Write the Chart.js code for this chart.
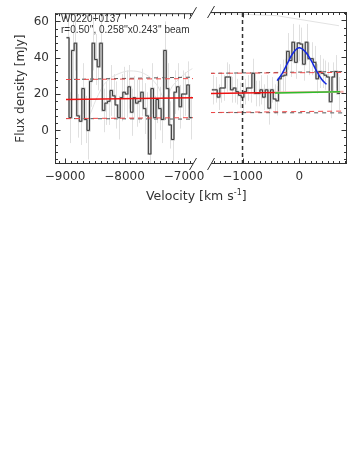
<!DOCTYPE html>
<html>
<head>
<meta charset="UTF-8">
<title>W0220+0137 spectrum</title>
<script src="https://cdn.jsdelivr.net/npm/chart.js"></script>
<style>
  body { margin: 0; background: #fff; font-family: "DejaVu Sans", sans-serif; }
  #wrap { position: relative; width: 357px; height: 462px; }
  canvas { position: absolute; top: 0; }
  #cLeft { left: 0; }
  #cRight { left: 200px; }
  .lbl { position: absolute; color: #333; white-space: nowrap; line-height: 1; }
  .note { font-family: "Liberation Sans", sans-serif; font-size: 10px; }
  .lbl sup { font-size: 8px; vertical-align: 5px; }
</style>
</head>
<body>
<div id="wrap">
  <canvas id="cLeft" width="215" height="210"></canvas>
  <canvas id="cRight" width="157" height="210"></canvas>
  <div class="lbl note" style="left:61px;top:14px">W0220+0137</div>
  <div class="lbl note" style="left:61px;top:25px">r=0.50'', 0.258''x0.243'' beam</div>
  <div class="lbl" style="left:146px;top:189px;font-size:12.5px">Velocity [km s<sup>-1</sup>]</div>
</div>

<script>
  // shared flux axis
  const yMin = -18.5, yMax = 64.5;
  const yTicks = [0, 20, 40, 60];
  const leftTicks = [-9000, -8000, -7000];
  const rightTicks = [-1000, 0];

  // left window: bins start / width (km/s) and flux (mJy)
  const leftStart = -8975, leftWidth = 43;
  const leftFlux = [51, 7, 44, 48, 8, 5, 23, 6, 0, 27, 48, 39, 35, 48, 11, 15, 16, 22, 19, 14,
    7, 18, 21, 20, 24, 10, 18, 15, 16, 21, 12, 8, -13, 23, 7, 17, 12, 6, 44, 23,
    3, -5, 21, 24, 13, 20, 20, 25, 7];
  const leftErr = [18, 14, 16, 15, 12, 13, 14, 13, 16, 14, 15, 14, 13, 15, 12, 12, 13, 14, 12, 13,
    12, 13, 14, 13, 12, 13, 12, 13, 12, 13, 14, 13, 16, 14, 12, 13, 12, 13, 16, 14,
    13, 15, 12, 13, 12, 13, 12, 13, 12];
  const leftFitV = [-8983, -6849];
  const leftFit = [17, 18];
  const leftHi = [28, 28.5], leftLo = [6.5, 7];
  const leftHiK = [28, 29.3], leftLoK = [6.5, 6.2];
  const leftModelV = [-8580, -8440, -8300, -8076, -7852, -7627, -7459, -7319, -7180, -6955, -6860];
  const leftModel = [8.7, 19.6, 26.9, 31.5, 32.7, 30.5, 25.1, 17.8, 25, 32, 34];

  // right window (around the line)
  const rightStart = -1540, rightWidth = 47;
  const rightFlux = [22, 22, 18, 23, 23, 29, 29, 22, 23, 21, 19, 18, 21, 23, 23, 31, 20, 20, 22, 18,
    22, 12, 22, 17, 16, 28, 29.5, 30, 43, 38, 48, 37, 47.6, 47, 36, 48, 39, 39, 37, 28,
    32, 31, 30, 29, 15.5, 29, 32, 20];
  const rightErr = [8, 7, 7, 8, 7, 8, 7, 7, 8, 7, 7, 8, 7, 7, 8, 8, 7, 7, 8, 7,
    8, 9, 7, 8, 8, 8, 9, 9, 10, 9, 10, 9, 10, 9, 9, 10, 9, 9, 9, 8,
    9, 8, 8, 8, 9, 8, 9, 9];
  const rightFitV = [-1560, -430], rightFit = [20, 20.5];
  const rightPaleV = [-430, 780], rightPale = [20.5, 21];
  const greenV = [-430, 720], green = [20.3, 21];
  const dashV = [-1570, 776];
  const rightHi = [31, 31.5], rightLo = [9.6, 10.4];
  const rightHiK = [31, 32], rightLoK = [9.6, 9.4];
  const gaussV = [-390, -300, -200, -100, 0, 100, 200, 300, 400, 480];
  const gauss = [27, 31, 37, 42.5, 45, 43, 38.5, 32.5, 27.5, 25];
  const topV = [-1560, -400, 700], topLine = [64, 62.5, 57];
  const markV = -1000;

  function stepPoints(start, width, vals) {
    const pts = vals.map((v, i) => ({ x: start + i * width, y: v }));
    pts.push({ x: start + vals.length * width, y: vals[vals.length - 1] });
    return pts;
  }
  function pairs(xs, ys) {
    return xs.map((x, i) => ({ x: x, y: ys[i] }));
  }
  function line(data, color, width, extra) {
    return Object.assign({ data: data, borderColor: color, borderWidth: width,
      pointRadius: 0, fill: false, tension: 0 }, extra || {});
  }
  function fmt(v) {
    return v < 0 ? "\u2212" + Math.abs(v) : String(v);
  }

  // frame, inward ticks, break marks and error bars
  const framePlugin = {
    id: "frame",
    beforeDatasetsDraw(chart, args, o) {
      const { ctx, chartArea: a, scales: { x, y } } = chart;
      ctx.save();
      ctx.beginPath();
      ctx.rect(a.left, a.top, a.right - a.left, a.bottom - a.top);
      ctx.clip();
      ctx.strokeStyle = "#e0e0e0";
      ctx.lineWidth = 1;
      o.flux.forEach((f, i) => {
        const xp = Math.round(x.getPixelForValue(o.start + (i + 0.5) * o.width)) + 0.5;
        ctx.beginPath();
        ctx.moveTo(xp, y.getPixelForValue(f - o.err[i]));
        ctx.lineTo(xp, y.getPixelForValue(f + o.err[i]));
        ctx.stroke();
      });
      ctx.restore();
    },
    afterDraw(chart, args, o) {
      const { ctx, chartArea: a, scales: { x, y } } = chart;
      ctx.save();
      ctx.strokeStyle = "#333";
      ctx.lineWidth = 1;
      const L = a.left + 0.5, R = a.right - 0.5, T = a.top + 0.5, B = a.bottom - 0.5;
      ctx.beginPath();
      ctx.moveTo(a.left, T); ctx.lineTo(a.right, T);
      ctx.moveTo(a.left, B); ctx.lineTo(a.right, B);
      if (o.side === "left") { ctx.moveTo(L, a.top); ctx.lineTo(L, a.bottom); }
      else { ctx.moveTo(R, a.top); ctx.lineTo(R, a.bottom); }
      // x ticks
      for (let v = Math.ceil(x.min / 100) * 100; v <= x.max; v += 100) {
        const xp = Math.round(x.getPixelForValue(v)) + 0.5;
        const len = v % 1000 === 0 ? 5 : 2.5;
        ctx.moveTo(xp, B); ctx.lineTo(xp, B - len);
        ctx.moveTo(xp, T); ctx.lineTo(xp, T + len);
      }
      // y ticks
      for (let v = Math.ceil(y.min / 4) * 4; v <= y.max; v += 4) {
        const yp = Math.round(y.getPixelForValue(v)) + 0.5;
        const len = v % 20 === 0 ? 5 : 2.5;
        if (o.side === "left") { ctx.moveTo(L, yp); ctx.lineTo(L + len, yp); }
        else { ctx.moveTo(R, yp); ctx.lineTo(R - len, yp); }
      }
      // break marks
      const bx = o.side === "left" ? a.right : a.left;
      [a.top, a.bottom].forEach(by => {
        ctx.moveTo(bx - 3.5, by + 6);
        ctx.lineTo(bx + 3.5, by - 6);
      });
      ctx.stroke();
      ctx.restore();
    }
  };

  const tickFont = { family: "DejaVu Sans", size: 12 };
  function xScale(min, max, values) {
    return {
      type: "linear", min: min, max: max,
      grid: { display: false, drawTicks: false }, border: { display: false },
      ticks: { color: "#333", font: tickFont, padding: 6, maxRotation: 0, autoSkip: false,
        callback: v => fmt(v) },
      afterBuildTicks(s) { s.ticks = values.map(v => ({ value: v })); },
      afterFit(s) { s.height = 46; }
    };
  }

  Chart.defaults.animation = false;

  new Chart(document.getElementById("cLeft"), {
    type: "line",
    data: {
      datasets: [
        line(pairs(leftFitV, leftFit), "#ee1111", 1.5),
        line(pairs(leftFitV, leftHi), "#f04848", 1, { borderDash: [5, 4] }),
        line(pairs(leftFitV, leftLo), "#f04848", 1, { borderDash: [5, 4] }),
        line(stepPoints(leftStart, leftWidth, leftFlux), "#3a3a3a", 1, { stepped: true }),
        line(stepPoints(leftStart, leftWidth, leftFlux), "#c0c0c0", 2, { stepped: true }),
        line(pairs(leftFitV, leftHiK), "#555", 1, { borderDash: [4, 4] }),
        line(pairs(leftFitV, leftLoK), "#555", 1, { borderDash: [4, 4] }),
        line(pairs(leftModelV, leftModel), "#e2e2e2", 1, { tension: 0.4 })
      ]
    },
    options: {
      responsive: false,
      layout: { padding: { top: 12, right: 22, left: 0, bottom: 0 } },
      plugins: {
        legend: { display: false }, tooltip: { enabled: false },
        frame: { side: "left", start: leftStart, width: leftWidth, flux: leftFlux, err: leftErr }
      },
      scales: {
        x: xScale(-9168, -6849, leftTicks),
        y: {
          min: yMin, max: yMax,
          grid: { display: false, drawTicks: false }, border: { display: false },
          ticks: { color: "#333", font: tickFont, padding: 6, callback: v => fmt(v) },
          afterBuildTicks(s) { s.ticks = yTicks.map(v => ({ value: v })); },
          title: { display: true, text: "Flux density [mJy]", color: "#333",
            font: { family: "DejaVu Sans", size: 12 }, padding: { top: 14, bottom: 0 } },
          afterFit(s) { s.width = 55; }
        }
      }
    },
    plugins: [framePlugin]
  });

  new Chart(document.getElementById("cRight"), {
    type: "line",
    data: {
      datasets: [
        line(pairs(gaussV, gauss), "#1428e0", 1.5, { tension: 0.4 }),
        line(pairs(greenV, green), "#2cbf2c", 1.5),
        line(pairs(rightFitV, rightFit), "#ee1111", 1.5),
        line(pairs(rightPaleV, rightPale), "#f6a8a8", 2),
        line(pairs(dashV, rightHi), "#f04848", 1, { borderDash: [5, 4] }),
        line(pairs(dashV, rightLo), "#f04848", 1, { borderDash: [5, 4] }),
        line([{ x: markV, y: yMin }, { x: markV, y: yMax }], "#333", 1.5, { borderDash: [4, 3] }),
        line(stepPoints(rightStart, rightWidth, rightFlux), "#3a3a3a", 1, { stepped: true }),
        line(stepPoints(rightStart, rightWidth, rightFlux), "#c0c0c0", 2, { stepped: true }),
        line(pairs(dashV, rightHiK), "#555", 1, { borderDash: [4, 4] }),
        line(pairs(dashV, rightLoK), "#555", 1, { borderDash: [4, 4] }),
        line(pairs(topV, topLine), "#e2e2e2", 1)
      ]
    },
    options: {
      responsive: false,
      layout: { padding: { top: 12, right: 10, left: 11, bottom: 0 } },
      plugins: {
        legend: { display: false }, tooltip: { enabled: false },
        frame: { side: "right", start: rightStart, width: rightWidth, flux: rightFlux, err: rightErr }
      },
      scales: {
        x: xScale(-1555, 840, rightTicks),
        y: { display: false, min: yMin, max: yMax }
      }
    },
    plugins: [framePlugin]
  });
</script>
</body>
</html>
